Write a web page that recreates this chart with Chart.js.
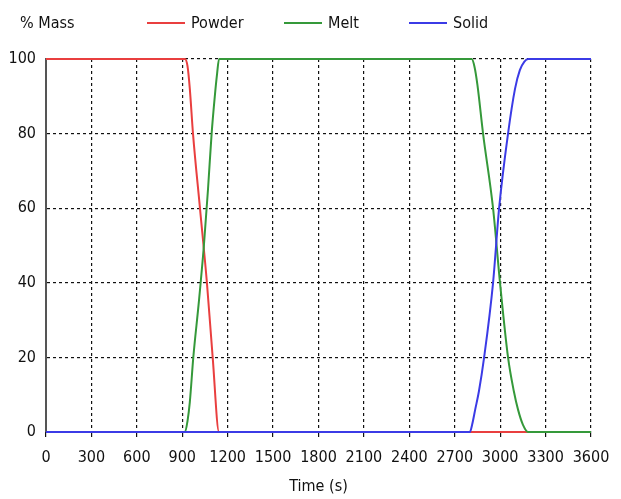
<!DOCTYPE html>
<html>
<head>
<meta charset="utf-8">
<script src="https://cdn.jsdelivr.net/npm/chart.js@4.4.0/dist/chart.umd.min.js"></script>
<style>
  html, body { margin: 0; padding: 0; background: #fff; }
  #wrap { width: 621px; height: 499px; }
</style>
</head>
<body>
<div id="wrap"><canvas id="myChart" width="621" height="499"></canvas></div>
<script>
// mass fractions (%), time in seconds
const powderTime = [0, 918, 935, 950, 971, 1017, 1063, 1101, 1143, 3600];
const powderMass = [100, 100, 98, 92, 80, 60, 40, 20, 0, 0];

const meltTime = [0, 918, 935, 950, 973, 1010, 1043, 1070, 1094, 1115, 1130, 1143, 2812, 2830, 2850, 2887, 2953, 2999, 3052, 3090, 3118, 3150, 3185, 3600];
const meltMass = [0, 0, 3, 8, 20, 35, 50, 65, 80, 90, 96, 100, 100, 98, 93, 80, 60, 40, 20, 11, 6, 2, 0, 0];

const solidTime = [0, 2800, 2815, 2835, 2860, 2894, 2953, 2993, 3052, 3098, 3130, 3160, 3185, 3600];
const solidMass = [0, 0, 2, 6, 11, 20, 40, 60, 80, 92, 97, 99.3, 100, 100];

const xTicks = [0, 3600, 300];   // min, max, step
const yTicks = [0, 100, 20];
const seriesNames = ['Powder', 'Melt', 'Solid'];
const seriesColors = ['#e93f3f', '#35993a', '#3b3be6'];

const FONT = "'Liberation Sans Narrow', 'Arial Narrow', 'DejaVu Sans Condensed', sans-serif";

function pts(t, v) {
  return t.map((x, i) => ({ x: x, y: v[i] }));
}

// "% Mass" label and the legend row at the top
const topLabels = {
  id: 'topLabels',
  afterDraw(chart) {
    const c = chart.ctx;
    c.save();
    c.font = '16px ' + FONT;
    c.fillStyle = '#111';
    c.textBaseline = 'middle';
    c.fillText('% Mass', 20, 24);
    const lineX = [147, 284, 409];
    for (let i = 0; i < seriesNames.length; i++) {
      c.strokeStyle = seriesColors[i];
      c.lineWidth = 2;
      c.beginPath();
      c.moveTo(lineX[i], 23);
      c.lineTo(lineX[i] + 38, 23);
      c.stroke();
      c.fillText(seriesNames[i], lineX[i] + 44, 24);
    }
    c.restore();
  }
};

const ctx = document.getElementById('myChart');

new Chart(ctx, {
  type: 'line',
  data: {
    datasets: [
      { label: seriesNames[0], data: pts(powderTime, powderMass), borderColor: seriesColors[0], order: 3 },
      { label: seriesNames[1], data: pts(meltTime, meltMass), borderColor: seriesColors[1], order: 2 },
      { label: seriesNames[2], data: pts(solidTime, solidMass), borderColor: seriesColors[2], order: 1 }
    ]
  },
  options: {
    responsive: false,
    animation: false,
    events: [],
    layout: { padding: { left: 0, top: 59, right: 30, bottom: 0 } },
    datasets: { line: { clip: false } },
    elements: {
      point: { radius: 0 },
      line: { borderWidth: 2, cubicInterpolationMode: 'monotone', fill: false }
    },
    plugins: {
      legend: { display: false },
      tooltip: { enabled: false }
    },
    scales: {
      x: {
        type: 'linear',
        min: xTicks[0],
        max: xTicks[1],
        afterFit(scale) { scale.height = 67; },
        ticks: {
          stepSize: xTicks[2],
          autoSkip: false,
          maxRotation: 0,
          padding: 11,
          color: '#111',
          font: { family: FONT, size: 16 },
          callback: (v) => String(v)
        },
        grid: { color: '#111', lineWidth: 1.2, drawTicks: true, tickLength: 5 },
        border: { display: false, dash: [3, 3] },
        title: {
          display: true,
          text: 'Time (s)',
          color: '#111',
          font: { family: FONT, size: 16 },
          padding: { top: 0, bottom: 3 }
        }
      },
      y: {
        min: yTicks[0],
        max: yTicks[1],
        afterFit(scale) { scale.width = 46; },
        ticks: {
          stepSize: yTicks[2],
          padding: 10,
          color: '#111',
          font: { family: FONT, size: 16 },
          callback: (v) => String(v)
        },
        grid: { color: '#111', lineWidth: 1.2, drawTicks: false },
        border: { display: true, color: '#555', width: 2, dash: [3, 3] }
      }
    }
  },
  plugins: [topLabels]
});
</script>
</body>
</html>
